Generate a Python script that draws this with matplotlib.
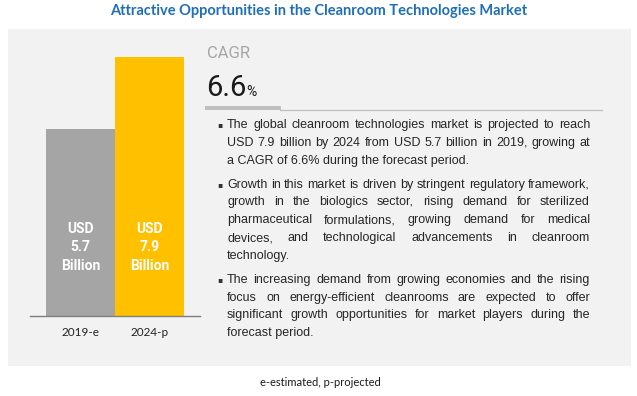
import matplotlib
matplotlib.use("Agg")
import matplotlib.pyplot as plt
from matplotlib.patches import Rectangle
from matplotlib.lines import Line2D

# data
years = ["2019-e", "2024-p"]
market_size = [5.7, 7.9]
bar_colors = ["#A5A5A5", "#FFC000"]
cagr = 6.6

title = "Attractive Opportunities in the Cleanroom Technologies Market"
footnote = "e-estimated, p-projected"
bullets = [
    ["The global cleanroom technologies market is projected to reach",
     "USD 7.9 billion by 2024 from USD 5.7 billion in 2019, growing at",
     "a CAGR of 6.6% during the forecast period."],
    ["Growth in this market is driven by stringent regulatory framework,",
     "growth in the biologics sector, rising demand for sterilized",
     "pharmaceutical formulations, growing demand for medical",
     "devices, and technological advancements in cleanroom",
     "technology."],
    ["The increasing demand from growing economies and the rising",
     "focus on energy-efficient cleanrooms are expected to offer",
     "significant growth opportunities for market players during the",
     "forecast period."],
]

W, H = 637, 396
fig = plt.figure(figsize=(W / 100, H / 100), dpi=100)
fig.patch.set_facecolor("white")


def fx(px):
    return px / W


def fy(py):
    return 1 - py / H


narrow = ["Roboto", "DejaVu Sans"]

# grey panel
fig.patches.append(Rectangle((fx(8), fy(366)), fx(623), (366 - 29) / H,
                             transform=fig.transFigure, facecolor="#F2F2F2",
                             edgecolor="none", zorder=-5))

fig.text(0.5, fy(11), title, ha="center", va="center", fontsize=10.5,
         fontweight="bold", color="#1F6FB8", family=["Lato", "DejaVu Sans"])

# bar chart
ax = fig.add_axes([fx(30), fy(316), fx(170), (316 - 57) / H])
ax.set_zorder(2)
ax.set_facecolor("none")
xs = list(range(len(years)))
ax.bar(xs, market_size, width=1.0, color=bar_colors)
ax.set_xlim(-0.732, 1.732)
ax.set_ylim(0, max(market_size))
for s in ["top", "right", "left"]:
    ax.spines[s].set_visible(False)
ax.spines["bottom"].set_color("#7F7F7F")
ax.spines["bottom"].set_linewidth(1.0)
ax.set_yticks([])
ax.set_xticks(xs)
ax.set_xticklabels(years, fontsize=8.5, color="#222222", family=["Lato", "DejaVu Sans"])
ax.tick_params(axis="x", length=0, pad=8)
for x, v in zip(xs, market_size):
    ax.text(x, 2.1, f"USD\n{v}\nBillion", ha="center", va="center", color="white",
            fontsize=10, fontweight="bold", family=narrow, linespacing=1.4)

# CAGR block
fig.text(fx(207), fy(53), "CAGR", ha="left", va="center", fontsize=12,
         color="#A6A6A6", family=narrow)
t = fig.text(fx(206), fy(96), f"{cagr}", ha="left", va="baseline", fontsize=21,
             color="#1A1A1A", family=narrow)
fig.canvas.draw()
r = fig.canvas.get_renderer()
bb = t.get_window_extent(r)
fig.text(bb.x1 / W, fy(96), "%", ha="left", va="baseline", fontsize=10,
         color="#1A1A1A", family=narrow)
fig.lines.append(Line2D([fx(280), fx(602)], [fy(110), fy(110)], transform=fig.transFigure,
                        color="#BFBFBF", linewidth=0.9))
fig.patches.append(Rectangle((fx(205), fy(110)), fx(76), 4 / H, transform=fig.transFigure,
                             facecolor="#BFBFBF", edgecolor="none"))

# bullet text, justified
x0, x1 = 227, 590
line_gap, para_gap = 17.8, 24
body_font = dict(fontsize=9, color="#262626", family=["Liberation Sans", "DejaVu Sans"])
y = 124
for para in bullets:
    fig.text(fx(217), fy(y + 3), "\u25aa", ha="left", va="baseline", fontsize=5.5,
             color="#333333")
    for i, line in enumerate(para):
        words = line.split(" ")
        last = i == len(para) - 1
        if last:
            fig.text(fx(x0), fy(y + 4), line, ha="left", va="baseline", **body_font)
        else:
            objs = [fig.text(0, fy(y + 4), w, ha="left", va="baseline", **body_font)
                    for w in words]
            widths = [o.get_window_extent(r).width for o in objs]
            gap = (x1 - x0 - sum(widths)) / max(len(words) - 1, 1)
            pos = x0
            for o, w in zip(objs, widths):
                o.set_x(fx(pos))
                pos += w + gap
        y += line_gap
    y += para_gap - line_gap

fig.text(fx(320), fy(382), footnote, ha="center", va="center", fontsize=8,
         color="#1A1A1A", family=["Lato", "DejaVu Sans"])

fig.savefig("out.png", dpi=100)
